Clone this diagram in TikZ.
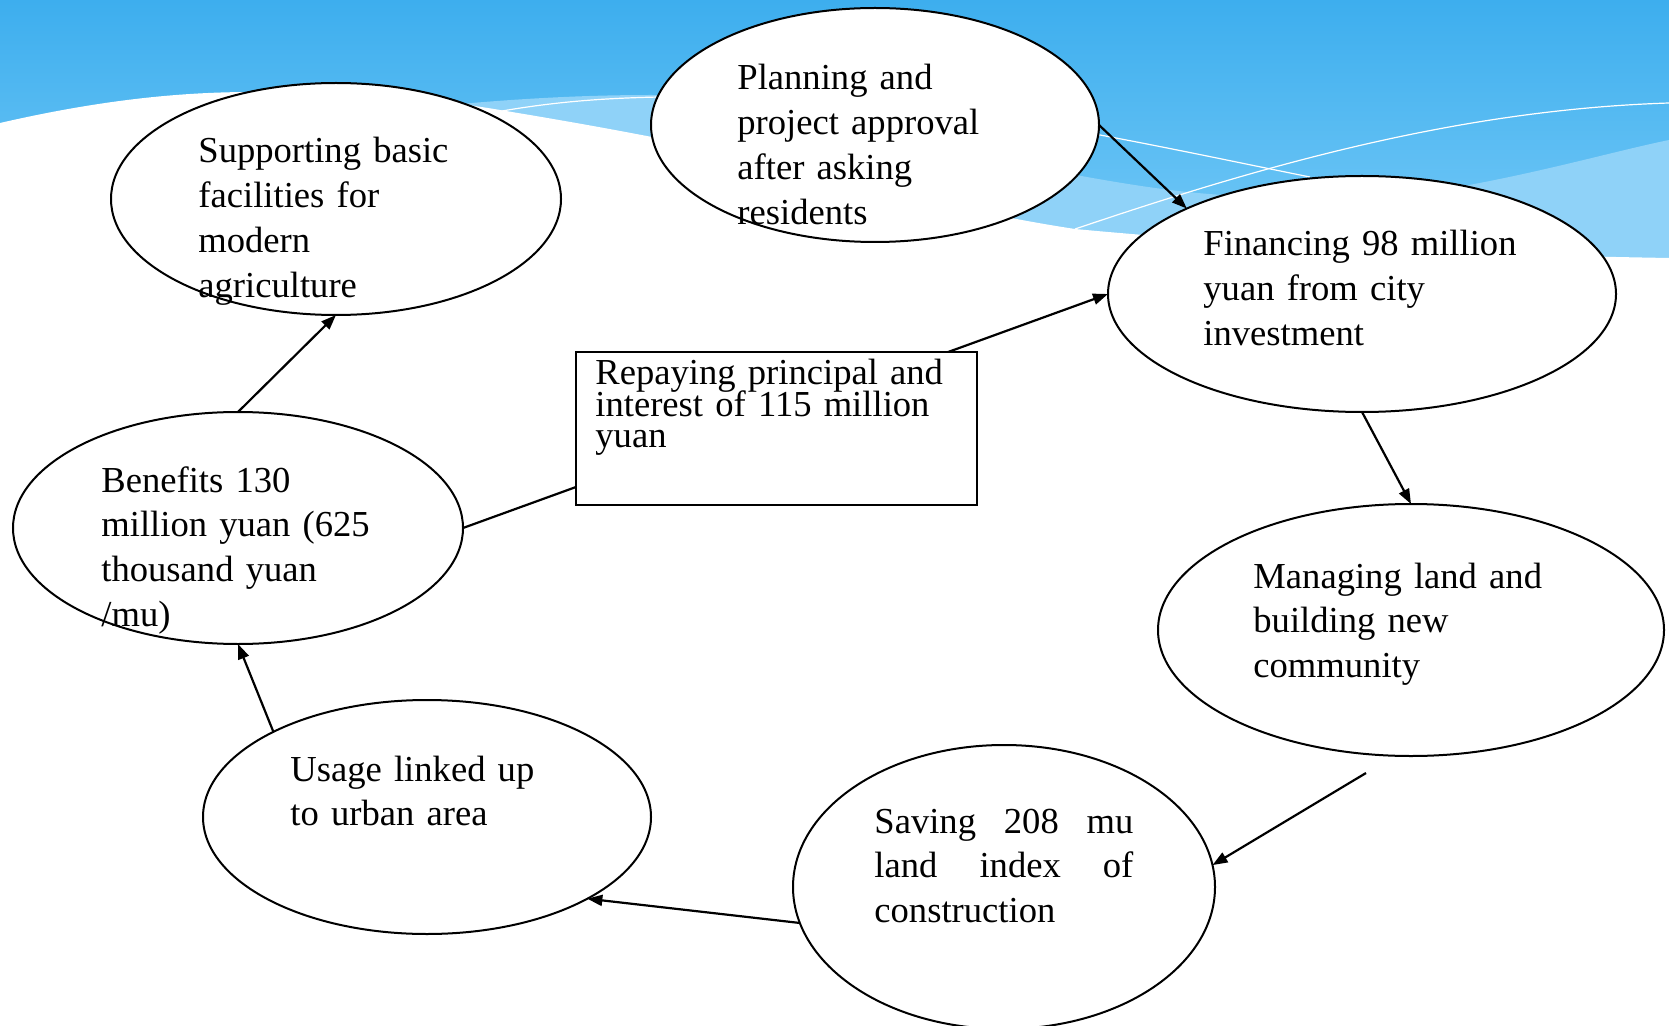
\documentclass[tikz,border=0pt]{standalone}
\usepackage{fontspec}
\setmainfont{Liberation Serif}
\usetikzlibrary{arrows.meta,shapes.geometric}
\definecolor{bgtop}{RGB}{61,174,238}
\definecolor{bgbot}{RGB}{118,202,247}
\definecolor{band}{RGB}{143,210,248}
\newcommand{\boxfont}{\fontsize{18.3pt}{15.75pt}\selectfont\lineskiplimit=-50pt\relax}
\begin{document}
\begin{tikzpicture}[x=0.5pt,y=-0.5pt,
  ell/.style={ellipse,draw=black,line width=1pt,fill=white,inner sep=0pt,outer sep=0pt},
  txt/.style={anchor=base west,align=left,inner sep=0pt,text width=#1,font=\fontsize{18.3pt}{22.35pt}\selectfont},
  txt/.default=190pt,
  arr/.style={line width=1.1pt,-{Triangle[length=7.5pt,width=5.5pt]}},
  wl/.style={white,line width=0.6pt}]
\useasboundingbox (0,0) rectangle (1669,1026);
% background
\shade[top color=bgtop,bottom color=bgbot] (0,0) rectangle (1669,270);
\fill[band] (460,104) .. controls (540,97) and (600,95) .. (652,95)
  .. controls (800,100) and (900,140) .. (1013,163)
  .. controls (1100,180) and (1180,195) .. (1250,196)
  .. controls (1350,197) and (1420,190) .. (1469,185)
  .. controls (1550,170) and (1620,150) .. (1669,140)
  -- (1669,400) -- (460,400) -- cycle;
\fill[white] (0,123) .. controls (100,100) and (180,92) .. (252,92)
  .. controls (350,92) and (430,98) .. (500,110)
  .. controls (560,120) and (600,127) .. (652,137)
  .. controls (800,170) and (950,210) .. (1075,229)
  .. controls (1300,250) and (1500,255) .. (1669,258)
  -- (1669,1026) -- (0,1026) -- cycle;
\draw[wl] (502,111) .. controls (560,101) and (610,98) .. (660,97)
  .. controls (850,95) and (1000,115) .. (1100,135)
  .. controls (1180,150) and (1250,165) .. (1310,177);
\draw[wl] (1075,229) .. controls (1250,170) and (1450,110) .. (1669,103);
% ellipses
\node[ell,minimum width=225pt,minimum height=116pt] (sup) at (336,199) {};
\node[ell,minimum width=224pt,minimum height=117pt] (plan) at (875,125) {};
\node[ell,minimum width=254pt,minimum height=118pt] (fin) at (1362,294) {};
\node[ell,minimum width=253pt,minimum height=126pt] (man) at (1411,630) {};
\node[ell,minimum width=211pt,minimum height=142pt] (sav) at (1004,887) {};
\node[ell,minimum width=224pt,minimum height=117pt] (use) at (427,817) {};
\node[ell,minimum width=225pt,minimum height=116pt] (ben) at (238,528) {};
% connectors
\coordinate (mstart) at (1366,773);
\draw[arr] (plan.east) -- (fin.154.6);
\draw[arr] (ben.east) -- (fin.west);
\draw[arr] (fin.south) -- (man.north);
\draw[arr] (mstart) -- (sav.6.7);
\draw[arr] (sav.190.5) -- (use.-27.3);
\draw[arr] (use.151.9) -- (ben.south);
\draw[arr] (ben.north) -- (sup.south);
% box
\node[draw=black,line width=1pt,fill=white,minimum width=200.5pt,minimum height=76.5pt,inner sep=0pt] (box) at (776.5,428.5) {};
% texts
\node[txt] (tsup) at (198,163) {Supporting basic\\facilities for\\modern\\agriculture};
\node[txt] (tplan) at (737,90) {Planning and\\project approval\\after asking\\residents};
\node[txt] (tfin) at (1203,256) {Financing 98 million\\yuan from city\\investment};
\node[txt] (tman) at (1253,588) {Managing land and\\building new\\community};
\node[txt=129.5pt] (tsav) at (874,833) {Saving\hfill 208\hfill mu\\land\hfill index\hfill of\\construction};
\node[txt] (tuse) at (290,781) {Usage linked up\\to urban area};
\node[txt] (tben) at (101,492) {Benefits 130\\million yuan (625\\thousand yuan\\/mu)};
\node[txt,font=\boxfont] (tbox) at (595,385) {Repaying principal and\\interest of 115 million\\yuan};
\end{tikzpicture}
\end{document}
